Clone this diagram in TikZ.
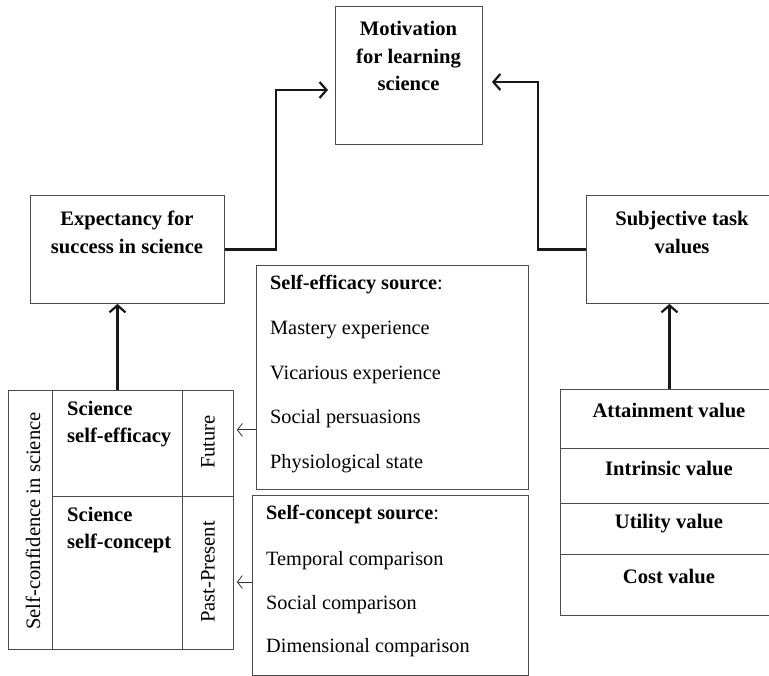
\documentclass[tikz,border=0pt]{standalone}
\usepackage{fontspec}
\setmainfont{Liberation Serif}
\usetikzlibrary{arrows.meta,positioning}

\tikzset{
  box/.style={draw=black!70, line width=0.9pt, inner sep=0pt, anchor=north west},
  lbl/.style={font=\fontsize{20.6}{27.5}\selectfont\bfseries, align=center, inner sep=0pt},
  side/.style={font=\fontsize{20.6}{24}\selectfont, rotate=90, inner sep=0pt},
  item/.style={font=\fontsize{20.3}{24}\selectfont, anchor=west, inner sep=0pt},
  link/.style={line width=2.6pt, black!90, -{Straight Barb[length=7pt,width=16pt,line width=2.2pt]}},
  feed/.style={line width=0.8pt, black!80, -{Straight Barb[length=5pt,width=13pt,line width=0.8pt]}}
}

\begin{document}
\begin{tikzpicture}[x=1pt, y=-1pt]
    \useasboundingbox (0,0) rectangle (769,676);

    % top boxes
    \node[box, minimum width=147pt, minimum height=138pt] (mot) at (335,6) {};
    \node[box, minimum width=194pt, minimum height=108pt] (exp) at (30,195) {};
    \node[box, minimum width=192pt, minimum height=108pt] (sub) at (586,195) {};
    \node[lbl] (motl) at (408.5,56) {Motivation\\for learning\\science};
    \node[lbl] (expl) at (127,232.5) {Expectancy for\\success in science};
    \node[lbl] (subl) at (682,232.5) {Subjective task\\values};

    % self-confidence table
    \node[box, minimum width=44pt, minimum height=259pt] (conf) at (8,390) {};
    \node[box, minimum width=130pt, minimum height=106pt] (sef) at (52,390) {};
    \node[box, minimum width=130pt, minimum height=153pt] (scn) at (52,496) {};
    \node[box, minimum width=51pt, minimum height=106pt] (fut) at (182,390) {};
    \node[box, minimum width=51pt, minimum height=153pt] (pas) at (182,496) {};
    \node[side] (confl) at (33,521) {Self-confidence in science};
    \node[lbl, align=left, anchor=west] (sefl) at (67,424) {Science\\self-efficacy};
    \node[lbl, align=left, anchor=west] (scnl) at (67,530) {Science\\self-concept};
    \node[side] (futl) at (208,442) {Future};
    \node[side] (pasl) at (208,572) {Past-Present};

    % sources
    \node[box, minimum width=272pt, minimum height=224pt] (ses) at (256,265) {};
    \node[box, minimum width=276pt, minimum height=180pt] (scs) at (252,495) {};
    \node[item] (ses0) at (270,285) {\textbf{Self-efficacy source}:};
    \node[item] (ses1) at (270,330) {Mastery experience};
    \node[item] (ses2) at (270,375) {Vicarious experience};
    \node[item] (ses3) at (270,419) {Social persuasions};
    \node[item] (ses4) at (270,464) {Physiological state};
    \node[item] (scs0) at (266,515) {\textbf{Self-concept source}:};
    \node[item] (scs1) at (266,561) {Temporal comparison};
    \node[item] (scs2) at (266,605) {Social comparison};
    \node[item] (scs3) at (266,648) {Dimensional comparison};

    % task values
    \node[box, minimum width=218pt, minimum height=59pt] (att) at (560,389) {};
    \node[box, minimum width=218pt, minimum height=55pt] (int) at (560,448) {};
    \node[box, minimum width=218pt, minimum height=51pt] (uti) at (560,503) {};
    \node[box, minimum width=218pt, minimum height=61pt] (cos) at (560,554) {};
    \node[lbl] (attl) at (669,410) {Attainment value};
    \node[lbl] (intl) at (669,468) {Intrinsic value};
    \node[lbl] (util) at (669,524) {Utility value};
    \node[lbl] (cosl) at (669,576) {Cost value};

    % arrows
    \coordinate (jl) at (276,90);
    \coordinate (jr) at (538,82);
    \draw[link, shorten >=7pt] (exp.east) -| (jl) -- (jl -| mot.west);
    \draw[link, shorten >=9pt] (sub.west) -| (jr) -- (jr -| mot.east);
    \draw[link] (sef.north) -- (sef.north |- exp.south);
    \draw[link] (att.north) -- (att.north |- sub.south);

    \coordinate (fa) at ([yshift=60pt]ses.south west);
    \coordinate (fb) at ([yshift=-87pt]scs.north west);
    \draw[feed, shorten >=3pt] (fa) -- (fa -| fut.east);
    \draw[feed, shorten >=3pt] (fb) -- (fb -| pas.east);
\end{tikzpicture}
\end{document}
